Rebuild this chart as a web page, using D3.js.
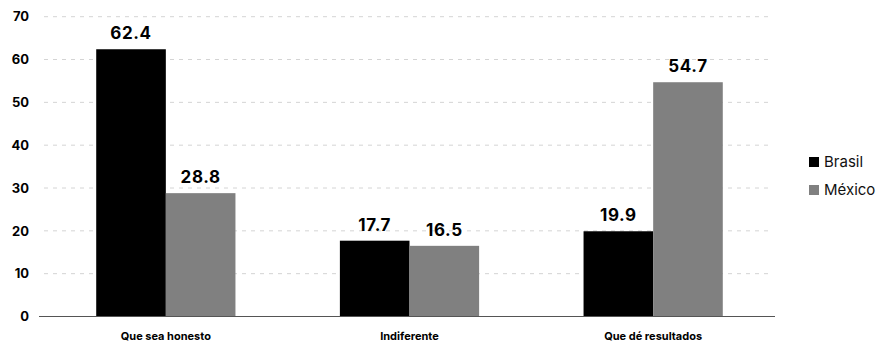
<!DOCTYPE html>
<html><head><meta charset="utf-8">
<script src="https://cdn.jsdelivr.net/npm/d3@7"></script>
<style>body{margin:0;background:#fff}</style>
</head><body>
<svg id="c" width="892" height="354"></svg>
<script>
const categories = ["Que sea honesto", "Indiferente", "Que dé resultados"];
const seriesNames = ["Brasil", "México"];
const brasil = [62.4, 17.7, 19.9];
const mexico = [28.8, 16.5, 54.7];
const yTicks = [0, 10, 20, 30, 40, 50, 60, 70];
const colors = ["#000000", "#808080"];

const svg = d3.select("#c");
const x = d3.scaleBand().domain(categories).range([44, 775]).paddingInner(0).paddingOuter(0);
const y = d3.scaleLinear().domain([0, 70]).range([316.5, 16.7]);
const inner = d3.scaleBand().domain(seriesNames).range([0, x.bandwidth()]).paddingInner(0).paddingOuter(0.75);
const numFont = "Inter, 'Noto Sans', sans-serif";

// grid
svg.append("g").selectAll("line").data(yTicks.filter(d => d > 0)).join("line")
  .attr("x1", 44).attr("x2", 770)
  .attr("y1", d => y(d)).attr("y2", d => y(d))
  .attr("stroke", "#d4d4d4").attr("stroke-width", 1).attr("stroke-dasharray", "4,5");

// y tick labels
const yAxis = d3.axisLeft(y).tickValues(yTicks).tickSize(0).tickPadding(0).tickFormat(d3.format("d"));
const ya = svg.append("g").attr("transform", "translate(29,0)").call(yAxis);
ya.select(".domain").remove();
ya.selectAll("text").attr("font-family", numFont).attr("font-weight", 700).attr("font-size", 13).attr("fill", "#000");

const data = categories.map((c, i) => ({cat: c, vals: [brasil[i], mexico[i]]}));
const groups = svg.append("g").selectAll("g").data(data).join("g")
  .attr("transform", d => `translate(${x(d.cat)},0)`);
groups.selectAll("rect").data(d => d.vals.map((v, j) => ({s: seriesNames[j], v, j}))).join("rect")
  .attr("x", d => inner(d.s)).attr("width", inner.bandwidth())
  .attr("y", d => y(d.v)).attr("height", d => y(0) - y(d.v))
  .attr("fill", d => colors[d.j]);
groups.selectAll("text").data(d => d.vals.map((v, j) => ({s: seriesNames[j], v, j}))).join("text")
  .attr("x", d => inner(d.s) + inner.bandwidth() / 2).attr("y", d => y(d.v) - 10)
  .attr("text-anchor", "middle").attr("font-family", numFont).attr("font-weight", 700)
  .attr("font-size", 17).attr("letter-spacing", "0.6px").attr("fill", "#000").text(d => d3.format(".1f")(d.v));

// x axis line
svg.append("line").attr("x1", 39).attr("x2", 775).attr("y1", y(0)).attr("y2", y(0))
  .attr("stroke", "#555").attr("stroke-width", 1.2);
const xAxis = d3.axisBottom(x).tickSize(0).tickPadding(0);
const xa = svg.append("g").attr("transform", `translate(0,${y(0) + 16})`).call(xAxis);
xa.select(".domain").remove();
xa.selectAll("text").attr("font-family", numFont).attr("font-weight", 700).attr("font-size", 11).attr("fill", "#000");

// legend
const lg = svg.append("g").selectAll("g").data(seriesNames).join("g")
  .attr("transform", (d, i) => `translate(809,${162 + i * 28})`);
lg.append("rect").attr("x", 0).attr("y", -5).attr("width", 10).attr("height", 10).attr("fill", (d, i) => colors[i]);
lg.append("text").attr("x", 15).attr("y", 0).attr("dy", "0.35em")
  .attr("font-family", "Inter, 'Liberation Sans', sans-serif").attr("font-size", 15).attr("fill", "#111").text(d => d);
</script>
</body></html>
